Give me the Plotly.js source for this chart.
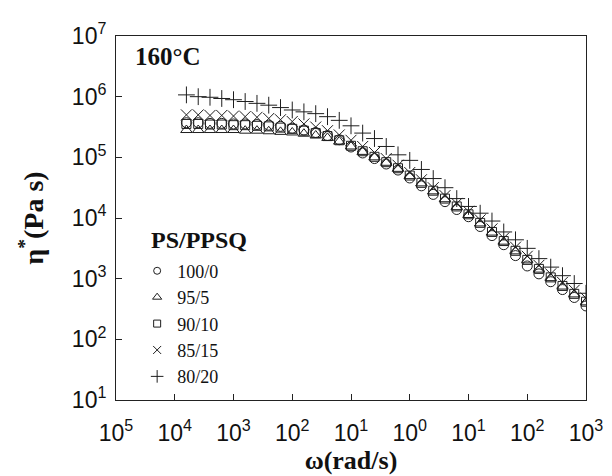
<!DOCTYPE html>
<html>
<head>
<meta charset="utf-8">
<script src="https://cdn.plot.ly/plotly-3.0.1.min.js"></script>
<style>html,body{margin:0;padding:0;background:#fff}#chart{width:612px;height:476px}</style>
</head>
<body>
<div id="chart"></div>
<script>
// angular frequency (rad/s)
var omega = [0.000158, 0.000251, 0.000398, 0.000631, 0.001, 0.00158, 0.00251, 0.00398, 0.00631, 0.01,
  0.0158, 0.0251, 0.0398, 0.0631, 0.1, 0.158, 0.251, 0.398, 0.631, 1,
  1.58, 2.51, 3.98, 6.31, 10, 15.8, 25.1, 39.8, 63.1, 100,
  158, 251, 398, 631, 1000];

// complex viscosity (Pa s) for each PS/PPSQ blend
var eta_100_0 = [372000, 372000, 363000, 363000, 355000, 355000, 347000, 339000, 324000, 302000,
  282000, 257000, 229000, 195000, 148000, 118000, 95500, 77600, 61700, 45700,
  33900, 24500, 18600, 13800, 10500, 7240, 5130, 3630, 2400, 1620,
  1200, 891, 661, 490, 355];
var eta_95_5 = [282000, 282000, 282000, 282000, 282000, 275000, 275000, 269000, 263000, 257000,
  245000, 229000, 209000, 182000, 151000, 123000, 100000, 81300, 64600, 49000,
  37200, 27500, 20400, 15100, 11200, 8130, 5750, 4070, 2820, 2000,
  1410, 1020, 741, 550, 407];
var eta_90_10 = [355000, 355000, 347000, 347000, 339000, 339000, 331000, 324000, 309000, 295000,
  275000, 251000, 224000, 191000, 155000, 126000, 102000, 83200, 66100, 50100,
  38000, 28200, 20900, 15500, 11500, 8320, 5890, 4170, 2880, 2040,
  1450, 1050, 759, 562, 417];
var eta_85_15 = [501000, 501000, 490000, 490000, 479000, 468000, 457000, 437000, 417000, 389000,
  355000, 316000, 275000, 234000, 191000, 151000, 120000, 95500, 74100, 56200,
  42700, 31600, 23400, 17400, 12900, 9330, 6610, 4680, 3310, 2340,
  1660, 1200, 871, 646, 479];
var eta_80_20 = [1070000, 1000000, 977000, 933000, 891000, 832000, 776000, 724000, 661000, 603000,
  562000, 525000, 468000, 407000, 331000, 251000, 204000, 151000, 110000, 89100,
  63100, 44700, 31600, 20900, 15500, 12000, 8910, 5890, 4370, 3160,
  2140, 1550, 1120, 832, 575];

var seriesNames = ['100/0', '95/5', '90/10', '85/15', '80/20'];
var seriesData = [eta_100_0, eta_95_5, eta_90_10, eta_85_15, eta_80_20];
var symbols = ['circle-open', 'triangle-up-open', 'square-open', 'x-thin-open', 'cross-thin-open'];
var sizes = [10, 10, 9, 11, 12];
var legendSizes = [7, 8, 7, 8, 9];

var xTickVals = [1e-5, 1e-4, 1e-3, 1e-2, 1e-1, 1, 10, 100, 1000];
var xTickText = ['10<sup>5</sup>', '10<sup>4</sup>', '10<sup>3</sup>', '10<sup>2</sup>', '10<sup>1</sup>',
  '10<sup>0</sup>', '10<sup>1</sup>', '10<sup>2</sup>', '10<sup>3</sup>'];
var yTickVals = [10, 100, 1000, 1e4, 1e5, 1e6, 1e7];
var yTickText = ['10<sup>1</sup>', '10<sup>2</sup>', '10<sup>3</sup>', '10<sup>4</sup>', '10<sup>5</sup>',
  '10<sup>6</sup>', '10<sup>7</sup>'];

var ink = '#1e1e1e';
var traces = seriesNames.map(function (n, i) {
  return {
    x: omega, y: seriesData[i], name: n, type: 'scatter', mode: 'markers', showlegend: false,
    marker: {symbol: symbols[i], size: sizes[i], color: ink, line: {color: ink, width: 1}}
  };
});
// legend-only entries (smaller symbols, as in the reference key)
seriesNames.forEach(function (n, i) {
  traces.push({
    x: [null], y: [null], name: n, type: 'scatter', mode: 'markers', showlegend: true,
    marker: {symbol: symbols[i], size: legendSizes[i], color: ink, line: {color: ink, width: 1}}
  });
});

var serif = '"Liberation Serif", "Times New Roman", serif';
var sans = '"Liberation Sans", Arial, sans-serif';

var layout = {
  width: 612, height: 476,
  margin: {l: 116, r: 26, t: 36, b: 76, pad: 0},
  paper_bgcolor: '#fff', plot_bgcolor: '#fff',
  showlegend: true,
  legend: {
    x: 0.045, y: 0.405, xanchor: 'left', yanchor: 'top',
    bgcolor: 'rgba(0,0,0,0)', borderwidth: 0,
    font: {family: serif, size: 18, color: '#111'},
    tracegroupgap: 0, itemsizing: 'trace'
  },
  xaxis: {
    type: 'log', range: [-5, 3], autorange: false,
    showline: true, linecolor: '#222', linewidth: 1, mirror: true,
    showgrid: false, zeroline: false,
    ticks: 'inside', ticklen: 6, tickcolor: '#222',
    tickvals: xTickVals, ticktext: xTickText,
    tickfont: {family: sans, size: 23, color: '#111'},
    ticklabelstandoff: 12,
    title: {text: '<b>ω(rad/s)</b>', font: {family: serif, size: 26, color: '#111'}, standoff: 0}
  },
  yaxis: {
    type: 'log', range: [1, 7], autorange: false,
    showline: true, linecolor: '#222', linewidth: 1, mirror: true,
    showgrid: false, zeroline: false,
    ticks: 'inside', ticklen: 6, tickcolor: '#222',
    tickvals: yTickVals, ticktext: yTickText,
    tickfont: {family: sans, size: 23, color: '#111'},
    ticklabelstandoff: 4,
    title: {text: '<b>η<sup>*</sup>(Pa s)</b>', font: {family: serif, size: 28, color: '#111'}, standoff: 20}
  },
  annotations: [{
    text: '<b>160°C</b>', xref: 'paper', yref: 'paper', x: 0.036, y: 0.945,
    xanchor: 'left', yanchor: 'middle', showarrow: false,
    font: {family: serif, size: 25, color: '#111'}
  }, {
    text: '<b>PS/PPSQ</b>', xref: 'paper', yref: 'paper', x: 0.07, y: 0.44,
    xanchor: 'left', yanchor: 'middle', showarrow: false,
    font: {family: serif, size: 24, color: '#111'}
  }]
};

Plotly.newPlot('chart', traces, layout, {displayModeBar: false, staticPlot: true});
</script>
</body>
</html>
